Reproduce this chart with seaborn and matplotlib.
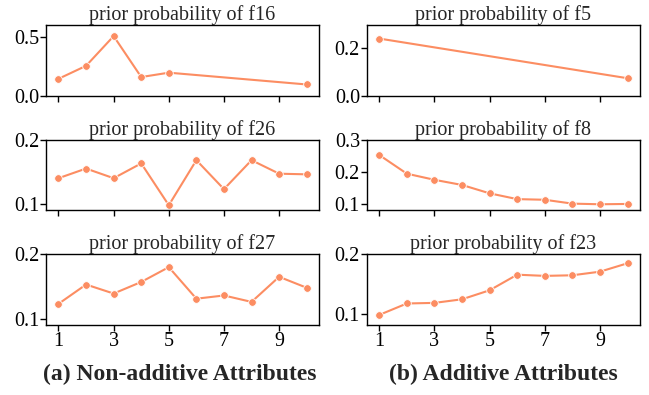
import numpy as np
import pandas as pd
import matplotlib
matplotlib.use('Agg')
import matplotlib.pyplot as plt
import seaborn as sns

# values
x_f16 = [1, 2, 3, 4, 5, 10]
p_f16 = [0.143, 0.253, 0.505, 0.158, 0.195, 0.095]
x_f26 = [1, 2, 3, 4, 5, 6, 7, 8, 9, 10]
p_f26 = [0.140, 0.155, 0.140, 0.163, 0.098, 0.168, 0.123, 0.168, 0.147, 0.146]
x_f27 = [1, 2, 3, 4, 5, 6, 7, 8, 9, 10]
p_f27 = [0.123, 0.153, 0.139, 0.157, 0.180, 0.131, 0.136, 0.126, 0.165, 0.148]
x_f5 = [1, 10]
p_f5 = [0.242, 0.074]
x_f8 = [1, 2, 3, 4, 5, 6, 7, 8, 9, 10]
p_f8 = [0.252, 0.194, 0.175, 0.159, 0.133, 0.115, 0.113, 0.101, 0.099, 0.100]
x_f23 = [1, 2, 3, 4, 5, 6, 7, 8, 9, 10]
p_f23 = [0.099, 0.118, 0.119, 0.125, 0.140, 0.166, 0.164, 0.165, 0.171, 0.185]

sns.set_theme(style='ticks')
plt.rcParams['font.family'] = ['Liberation Serif', 'DejaVu Serif']

fig, axes = plt.subplots(3, 2, figsize=(6.49, 3.95), dpi=100)
fig.subplots_adjust(left=0.071, right=0.986, top=0.937, bottom=0.177,
                    wspace=0.175, hspace=0.62)

panels = [
    (axes[0, 0], 'f16', x_f16, p_f16, (0, 0.6), [0.0, 0.5]),
    (axes[1, 0], 'f26', x_f26, p_f26, (0.09, 0.2), [0.1, 0.2]),
    (axes[2, 0], 'f27', x_f27, p_f27, (0.09, 0.2), [0.1, 0.2]),
    (axes[0, 1], 'f5', x_f5, p_f5, (0, 0.3), [0.0, 0.2]),
    (axes[1, 1], 'f8', x_f8, p_f8, (0.08, 0.3), [0.1, 0.2, 0.3]),
    (axes[2, 1], 'f23', x_f23, p_f23, (0.082, 0.2), [0.1, 0.2]),
]

color = '#fc8d62'
for ax, name, xs, ps, ylim, yt in panels:
    df = pd.DataFrame({'x': xs, 'p': ps})
    sns.lineplot(data=df, x='x', y='p', ax=ax, color=color, marker='o',
                 markersize=5.5, markeredgecolor='white', markeredgewidth=0.6,
                 linewidth=1.5)
    ax.set_title('prior probability of ' + name, fontsize=14.5, pad=3)
    ax.set_xlim(0.55, 10.45)
    ax.set_ylim(*ylim)
    ax.set_yticks(yt)
    ax.set_yticklabels(['%.1f' % v for v in yt])
    ax.set_xticks([1, 3, 5, 7, 9])
    ax.set_xlabel('')
    ax.set_ylabel('')
    for s in ax.spines.values():
        s.set_linewidth(1.0)
        s.set_color('black')
    ax.tick_params(axis='both', labelsize=14.5, length=4, width=1.0, pad=1,
                   colors='black')
    if ax not in axes[2]:
        ax.set_xticklabels([])

fig.text(0.277, 0.038, '(a) Non-additive Attributes', ha='center',
         fontsize=17, fontweight='bold')
fig.text(0.775, 0.038, '(b) Additive Attributes', ha='center',
         fontsize=17, fontweight='bold')

fig.savefig('out.png', dpi=100)
